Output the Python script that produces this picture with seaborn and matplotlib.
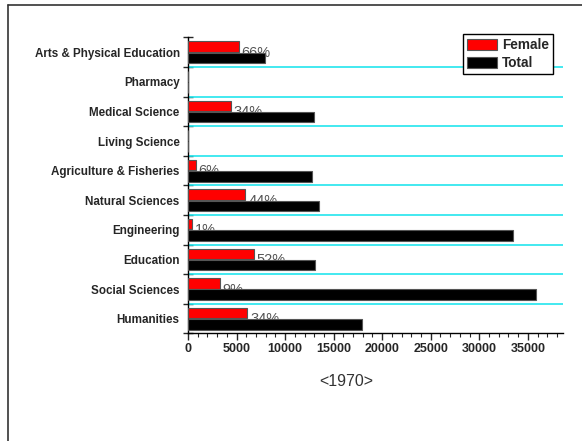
import matplotlib
matplotlib.use('Agg')
import matplotlib.pyplot as plt
from matplotlib.lines import Line2D
from matplotlib.ticker import MultipleLocator
import pandas as pd
import seaborn as sns

# 1970 students by field (top to bottom as drawn)
fields = ['Arts & Physical Education', 'Pharmacy', 'Medical Science', 'Living Science',
          'Agriculture & Fisheries', 'Natural Sciences', 'Engineering', 'Education',
          'Social Sciences', 'Humanities']
female = [5220, 0, 4400, 0, 800, 5920, 410, 6800, 3300, 6100]
total = [7890, 0, 12940, 0, 12730, 13450, 33450, 13110, 35820, 17880]
pct_labels = ['66%', '', '34%', '', '6%', '44%', '1%', '52%', '9%', '34%']

df = pd.DataFrame({
    'field': fields * 2,
    'value': female + total,
    'group': ['Female'] * len(fields) + ['Total'] * len(fields),
})

sns.set_style('white')
plt.rcParams['font.family'] = ['Liberation Sans', 'DejaVu Sans']

fig = plt.figure(figsize=(5.82, 4.41), dpi=100)
ax = fig.add_axes([0.323, 0.244, 0.644, 0.671])

sns.barplot(data=df, x='value', y='field', hue='group', orient='h',
            palette={'Female': '#ff0000', 'Total': '#000000'}, saturation=1,
            width=0.76, gap=0.06, edgecolor='#555555', linewidth=0.8,
            ax=ax, zorder=3)

# percentage labels sit behind the total bars
for i, (v, lab) in enumerate(zip(female, pct_labels)):
    if lab:
        ax.annotate(lab, xy=(v, i + 0.02), xytext=(2, 0), textcoords='offset points',
                    va='center', ha='left', fontsize=10.5, color='#555555', zorder=2)

ax.set_xlim(0, 38600)
ax.set_ylim(9.5, -0.5)
for b in range(1, len(fields)):
    ax.axhline(b - 0.5, color='#22e5ee', lw=1.2, zorder=1)

ax.set_xlabel('')
ax.set_ylabel('')
sns.despine(ax=ax, top=True, right=True)
ax.spines['left'].set_color('black')
ax.spines['bottom'].set_color('black')
ax.spines['left'].set_linewidth(1)
ax.spines['bottom'].set_linewidth(1)

ax.xaxis.set_major_locator(MultipleLocator(5000))
ax.xaxis.set_minor_locator(MultipleLocator(1000))
ax.tick_params(axis='x', which='major', direction='out', length=5, width=1,
               bottom=True, labelsize=9, pad=2)
ax.tick_params(axis='x', which='minor', direction='out', length=3, width=0.8, bottom=True)
for t in ax.get_xticklabels():
    t.set_fontweight('bold')

ax.set_yticks(range(len(fields)))
ax.set_yticklabels(fields, fontweight='bold', fontsize=8.4)
ax.set_yticks([b - 0.5 for b in range(len(fields) + 1)], minor=True)
ax.tick_params(axis='y', which='major', length=0, pad=6)
ax.tick_params(axis='y', which='minor', direction='inout', length=7, width=1, left=True)

leg = ax.legend(loc='upper right', bbox_to_anchor=(553 / 582, 1 - 34 / 441),
                bbox_transform=fig.transFigure, borderaxespad=0, frameon=True,
                fancybox=False, edgecolor='black', framealpha=1, borderpad=0.3,
                handlelength=2.2, handleheight=0.85, handletextpad=0.35, labelspacing=0.3,
                prop={'weight': 'bold', 'size': 9.8})
leg.get_frame().set_linewidth(1)
leg.set_zorder(5)

fig.text(346 / 582, 1 - 381 / 441, '<1970>', ha='center', va='center',
         fontsize=11.5, color='#333333')

# page frame
fig.add_artist(Line2D([8 / 582, 1], [1 - 5 / 441, 1 - 5 / 441], transform=fig.transFigure,
                      color='#333333', lw=1.2))
fig.add_artist(Line2D([8 / 582, 8 / 582], [0, 1 - 5 / 441], transform=fig.transFigure,
                      color='#333333', lw=1.2))

fig.savefig('out.png', dpi=100)
